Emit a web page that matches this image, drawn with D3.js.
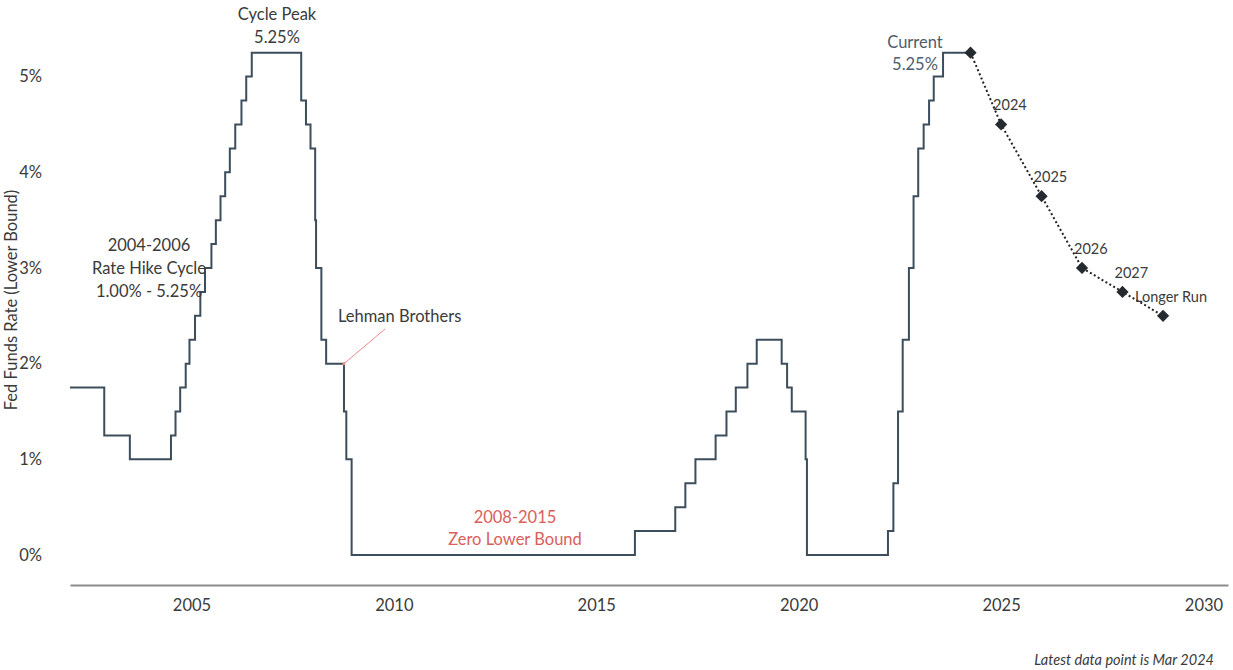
<!DOCTYPE html>
<html>
<head>
<meta charset="utf-8">
<script src="https://cdn.jsdelivr.net/npm/d3@7"></script>
<style>
  body { margin: 0; background: #fff; }
  svg text { font-family: Lato, "Noto Sans", sans-serif; }
</style>
</head>
<body>
<svg id="chart" width="1233" height="670"></svg>
<script>

// fed funds lower bound, step changes (date of change, new rate)
const rateDates = ["2002-01-01","2002-11-06","2003-06-25","2004-06-30","2004-08-10","2004-09-21",
        "2004-11-10","2004-12-14","2005-02-02","2005-03-22","2005-05-03","2005-06-30","2005-08-09",
        "2005-09-20","2005-11-01","2005-12-13","2006-01-31","2006-03-28","2006-05-10","2006-06-29",
        "2007-09-18","2007-10-31","2007-12-11","2008-01-22","2008-01-30","2008-03-18","2008-04-30",
        "2008-10-08","2008-10-29","2008-12-16","2015-12-16","2016-12-14","2017-03-15","2017-06-14",
        "2017-12-13","2018-03-21","2018-06-13","2018-09-26","2018-12-19","2019-08-01","2019-09-19",
        "2019-10-31","2020-03-04","2020-03-16","2022-03-17","2022-05-05","2022-06-16","2022-07-28",
        "2022-09-22","2022-11-03","2022-12-15","2023-02-02","2023-03-23","2023-05-04","2023-07-27",
        "2024-03-31"];
const rateValues = [1.75,1.25,1.00,1.25,1.50,1.75,
        2.00,2.25,2.50,2.75,3.00,3.25,3.50,
        3.75,4.00,4.25,4.50,4.75,5.00,5.25,
        4.75,4.50,4.25,3.50,3.00,2.25,2.00,
        1.50,1.00,0.00,0.25,0.50,0.75,1.00,
        1.25,1.50,1.75,2.00,2.25,2.00,1.75,
        1.50,1.00,0.00,0.25,0.75,1.50,2.25,
        3.00,3.75,4.25,4.50,4.75,5.00,5.25,
        5.25];

// projections (current + FOMC medians)
const projLabels = ["", "2024", "2025", "2026", "2027", "Longer Run"];
const projDates = ["2024-03-31", "2025-01-01", "2026-01-01", "2027-01-01", "2028-01-01", "2029-01-01"];
const projValues = [5.25, 4.5, 3.75, 3.0, 2.75, 2.5];

const yTicks = [0, 1, 2, 3, 4, 5];
const xTickYears = [2005, 2010, 2015, 2020, 2025, 2030];

const parse = d3.timeParse("%Y-%m-%d");
const rates = rateDates.map((d, i) => ({date: parse(d), value: rateValues[i]}));
const proj = projDates.map((d, i) => ({date: parse(d), value: projValues[i], label: projLabels[i]}));

const svg = d3.select("#chart");
const lineColor = "#3c4d5c";
const textColor = "#3a3a3a";

const x = d3.scaleTime()
        .domain([new Date(2002, 0, 1), new Date(2030, 7, 10)])
        .range([70, 1228]);
const y = d3.scaleLinear().domain([0, 5.25]).range([555, 52.7]);

// x axis
const xAxis = svg.append("g").attr("transform", "translate(0,585)")
        .call(d3.axisBottom(x)
                .tickValues(xTickYears.map(yr => new Date(yr, 0, 1)))
                .tickFormat(d3.timeFormat("%Y"))
                .tickSize(0)
                .tickPadding(14));
xAxis.select(".domain").attr("stroke", "#8c8c8c").attr("stroke-width", 2);
xAxis.selectAll("text").attr("font-size", 16.5).attr("fill", textColor)
        .style("font-family", "Lato, 'Noto Sans', sans-serif");

// y axis, labels only
const yAxis = svg.append("g").attr("transform", "translate(42,0)")
        .call(d3.axisLeft(y).tickValues(yTicks).tickFormat(d => d + "%").tickSize(0).tickPadding(0));
yAxis.select(".domain").remove();
yAxis.selectAll("text").attr("font-size", 16.5).attr("fill", textColor)
        .style("font-family", "Lato, 'Noto Sans', sans-serif");

svg.append("text")
        .attr("transform", "translate(17,300) rotate(-90)")
        .attr("text-anchor", "middle")
        .attr("font-size", 16.5)
        .attr("fill", textColor)
        .text("Fed Funds Rate (Lower Bound)");

// step line
const line = d3.line().x(d => x(d.date)).y(d => y(d.value)).curve(d3.curveStepAfter);
svg.append("path").datum(rates)
        .attr("d", line)
        .attr("fill", "none")
        .attr("stroke", lineColor)
        .attr("stroke-width", 2);

// projection dotted line + diamonds
const projLine = d3.line().x(d => x(d.date)).y(d => y(d.value));
svg.append("path").datum(proj)
        .attr("d", projLine)
        .attr("fill", "none")
        .attr("stroke", "#222")
        .attr("stroke-width", 2)
        .attr("stroke-dasharray", "2,2.5");

svg.append("g").selectAll("path")
        .data(proj)
        .join("path")
        .attr("d", d3.symbol().type(d3.symbolDiamond2).size(95))
        .attr("transform", d => `translate(${x(d.date)},${y(d.value)})`)
        .attr("fill", "#252a30");

svg.append("g").selectAll("text")
        .data(proj.filter(d => d.label))
        .join("text")
        .attr("x", d => x(d.date) + (d.label === "Longer Run" ? -28 : -8))
        .attr("y", d => y(d.value) - 14)
        .attr("font-size", 14.5)
        .attr("fill", textColor)
        .text(d => d.label);

// annotations
function label(lines, cx, cy, opts = {}) {
        const t = svg.append("text")
                .attr("text-anchor", opts.anchor || "middle")
                .attr("font-size", opts.size || 16.5)
                .attr("fill", opts.color || textColor);
        lines.forEach((s, i) => {
                t.append("tspan").attr("x", cx).attr("y", cy + i * (opts.lh || 23)).text(s);
        });
        return t;
}

label(["Cycle Peak", "5.25%"], 277, 20);
label(["2004-2006", "Rate Hike Cycle", "1.00% - 5.25%"], 149, 251);
label(["Lehman Brothers"], 338, 322, {anchor: "start"});
label(["2008-2015", "Zero Lower Bound"], 515, 523, {color: "#d9605b", lh: 22});
label(["Current", "5.25%"], 915, 48, {color: "#4d5d6c", lh: 22});

// Lehman pointer
const lehman = rates.find(d => d.value === 2.00 && d.date.getFullYear() === 2008);
const lehmanEnd = rates[rates.indexOf(lehman) + 1];
svg.append("line")
        .attr("x1", 385).attr("y1", 329)
        .attr("x2", x(lehmanEnd.date)).attr("y2", y(2.0))
        .attr("stroke", "#f08a8a").attr("stroke-width", 1);
svg.append("circle")
        .attr("cx", x(lehmanEnd.date)).attr("cy", y(2.0)).attr("r", 1.5)
        .attr("fill", "#f08a8a");

svg.append("text")
        .attr("x", 1214).attr("y", 665)
        .attr("text-anchor", "end")
        .attr("font-size", 14.5)
        .attr("font-style", "italic")
        .attr("fill", textColor)
        .text("Latest data point is Mar 2024");

</script>
</body>
</html>
